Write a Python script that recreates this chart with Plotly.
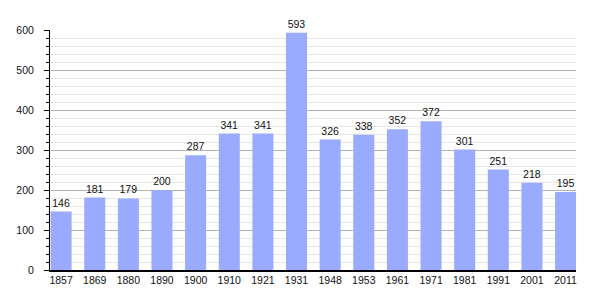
import plotly.graph_objects as go

years = ["1857", "1869", "1880", "1890", "1900", "1910", "1921", "1931",
         "1948", "1953", "1961", "1971", "1981", "1991", "2001", "2011"]
population = [146, 181, 179, 200, 287, 341, 341, 593,
              326, 338, 352, 372, 301, 251, 218, 195]
y_ticks = [0, 100, 200, 300, 400, 500, 600]

fig = go.Figure(go.Bar(
    x=years, y=population,
    marker=dict(color="#99aaff", line=dict(width=0)),
    width=0.625,
    text=[str(v) for v in population],
    textposition="outside",
    textfont=dict(family="Liberation Sans, Arial, sans-serif", size=10.5, color="#111"),
    cliponaxis=False,
))

fig.update_layout(
    width=605, height=300,
    margin=dict(l=50, r=29, t=30, b=30),
    paper_bgcolor="white", plot_bgcolor="white",
    font=dict(family="Liberation Sans, Arial, sans-serif", size=10.5, color="#111"),
    showlegend=False,
    bargap=0.375,
)
fig.update_xaxes(
    type="category", range=[-0.33, 15.31],
    showgrid=False, showline=True, linecolor="black", linewidth=1.5,
    ticks="", ticklabelstandoff=0, tickfont=dict(size=10.5),
    zeroline=False,
)
fig.update_yaxes(
    range=[0, 600], tickvals=y_ticks,
    showgrid=True, gridcolor="#b4b4b4", gridwidth=1,
    showline=True, linecolor="black", linewidth=1,
    ticks="outside", ticklen=5, tickcolor="black", tickwidth=1,
    ticklabelstandoff=8, tickfont=dict(size=10.5),
    zeroline=False,
    minor=dict(dtick=20, ticks="outside", ticklen=3, tickcolor="black",
               showgrid=True, gridcolor="#e6e6e6", gridwidth=1),
)

fig.write_html("out.html")
